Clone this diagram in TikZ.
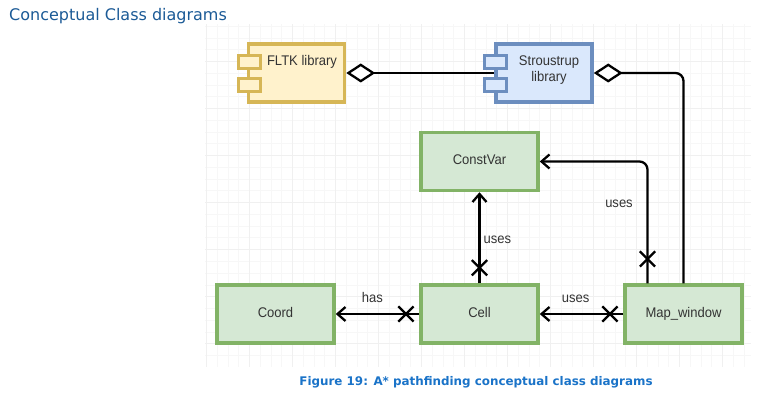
\documentclass[tikz,border=0pt]{standalone}
\usepackage{fontspec}
\setmainfont[FakeStretch=0.93]{Liberation Sans}
\newfontfamily\dejavu{DejaVu Sans}
\usepackage{tikz}
\usetikzlibrary{arrows.meta, shapes.misc}

\definecolor{yellowfill}{HTML}{FFF2CC}
\definecolor{yellowline}{HTML}{D6B656}
\definecolor{bluefill}{HTML}{DAE8FC}
\definecolor{blueline}{HTML}{6C8EBF}
\definecolor{greenfill}{HTML}{D5E8D4}
\definecolor{greenline}{HTML}{82B366}
\definecolor{headcolor}{HTML}{1B5A96}
\definecolor{captioncolor}{HTML}{1A73C8}
\definecolor{textcolor}{HTML}{333333}

\tikzset{
    classbox/.style={draw=greenline, fill=greenfill, line width=3.5pt, minimum width=117pt, minimum height=58pt,
        inner sep=0pt, text height=10pt, text depth=3pt, font=\fontsize{14}{16}\selectfont, text=textcolor},
    compbox/.style={line width=3.5pt, minimum width=96pt, minimum height=58pt, inner sep=0pt},
    stubbox/.style={line width=3pt, minimum width=22pt, minimum height=12.5pt, inner sep=0pt},
    complabel/.style={align=center, inner sep=0pt, font=\fontsize{14}{16}\selectfont, text=textcolor},
    edgelabel/.style={inner sep=0pt, font=\fontsize{14}{16}\selectfont, text=textcolor},
    aggline/.style={line width=2.3pt, rounded corners=8pt, {Diamond[length=29pt, width=19pt, fill=white]}-},
    useline/.style={line width=2.3pt, rounded corners=8pt, -{Straight Barb[length=8pt, width=14pt]}},
    xmark/.style={cross out, draw, line width=2.3pt, minimum size=13pt, inner sep=0pt}
}

\begin{document}
\begin{tikzpicture}[x=1pt, y=-1pt]
    \useasboundingbox (0,0) rectangle (772,409);

    % background grid
    \foreach \k in {0,...,50} \draw[black!3, line width=0.8pt] ({206.5+10.75*\k},24) -- ({206.5+10.75*\k},367);
    \foreach \k in {0,...,28} \draw[black!3, line width=0.8pt] (205,{26.4+11.75*\k}) -- (751,{26.4+11.75*\k});
    \foreach \k in {0,...,12} \draw[black!6, line width=1pt] ({206.5+43*\k},24) -- ({206.5+43*\k},367);
    \foreach \k in {1,...,7} \draw[black!6, line width=1pt] (205,{14.7+47*\k}) -- (751,{14.7+47*\k});

    % titles
    \node[anchor=west, inner sep=0pt, text=headcolor, font=\dejavu\fontsize{16}{18}\selectfont] (heading) at (9,16) {Conceptual Class diagrams};
    \node[inner sep=0pt, text=captioncolor, font=\dejavu\bfseries\fontsize{11.9}{14}\selectfont] (caption) at (476,382.5) {Figure 19: A* pathfinding conceptual class diagrams};

    % library components
    \node[compbox, draw=yellowline, fill=yellowfill] (fltk) at (296.5,73) {};
    \node[stubbox, draw=yellowline, fill=yellowfill] (fltkstuba) at (249,62) {};
    \node[stubbox, draw=yellowline, fill=yellowfill] (fltkstubb) at (249,85) {};
    \node[complabel] (fltklabel) at (302,62) {FLTK library};
    \node[compbox, draw=blueline, fill=bluefill] (stroustrup) at (544,73) {};
    \node[stubbox, draw=blueline, fill=bluefill] (stroustrupstuba) at (495.5,62) {};
    \node[stubbox, draw=blueline, fill=bluefill] (stroustrupstubb) at (495.5,85) {};
    \node[complabel] (stroustruplabel) at (549,70) {Stroustrup\\library};

    % classes
    \node[classbox] (constvar) at (479.5,161.5) {ConstVar};
    \node[classbox] (coord) at (275.5,314) {Coord};
    \node[classbox] (cell) at (479.5,314) {Cell};
    \node[classbox] (mapwindow) at (683.5,314) {Map\_window};

    % aggregations
    \draw[aggline] (fltk.east) -- (stroustrup.west);
    \draw[aggline] (stroustrup.east) -| (mapwindow.north);

    % uses and has
    \draw[useline] (cell.north) -- node[xmark, pos=0.17] (cellx) {} node[edgelabel, pos=0.48, anchor=west, xshift=3pt] (celluses) {uses} (constvar.south);
    \draw[useline] (cell.west) -- node[xmark, pos=0.16] (coordx) {} node[edgelabel, pos=0.56, above, yshift=10pt] (cellhas) {has} (coord.east);
    \draw[useline] (mapwindow.west) -- node[xmark, pos=0.16] (mapx) {} node[edgelabel, pos=0.57, above, yshift=10pt] (mapuses) {uses} (cell.east);
    \coordinate (mapexit) at ([xshift=-36pt]mapwindow.north);
    \draw[useline] (mapexit) |- node[xmark, pos=0.1] (constx) {} (constvar.east);
    \node[edgelabel] (constuses) at (619,203.5) {uses};
\end{tikzpicture}
\end{document}
